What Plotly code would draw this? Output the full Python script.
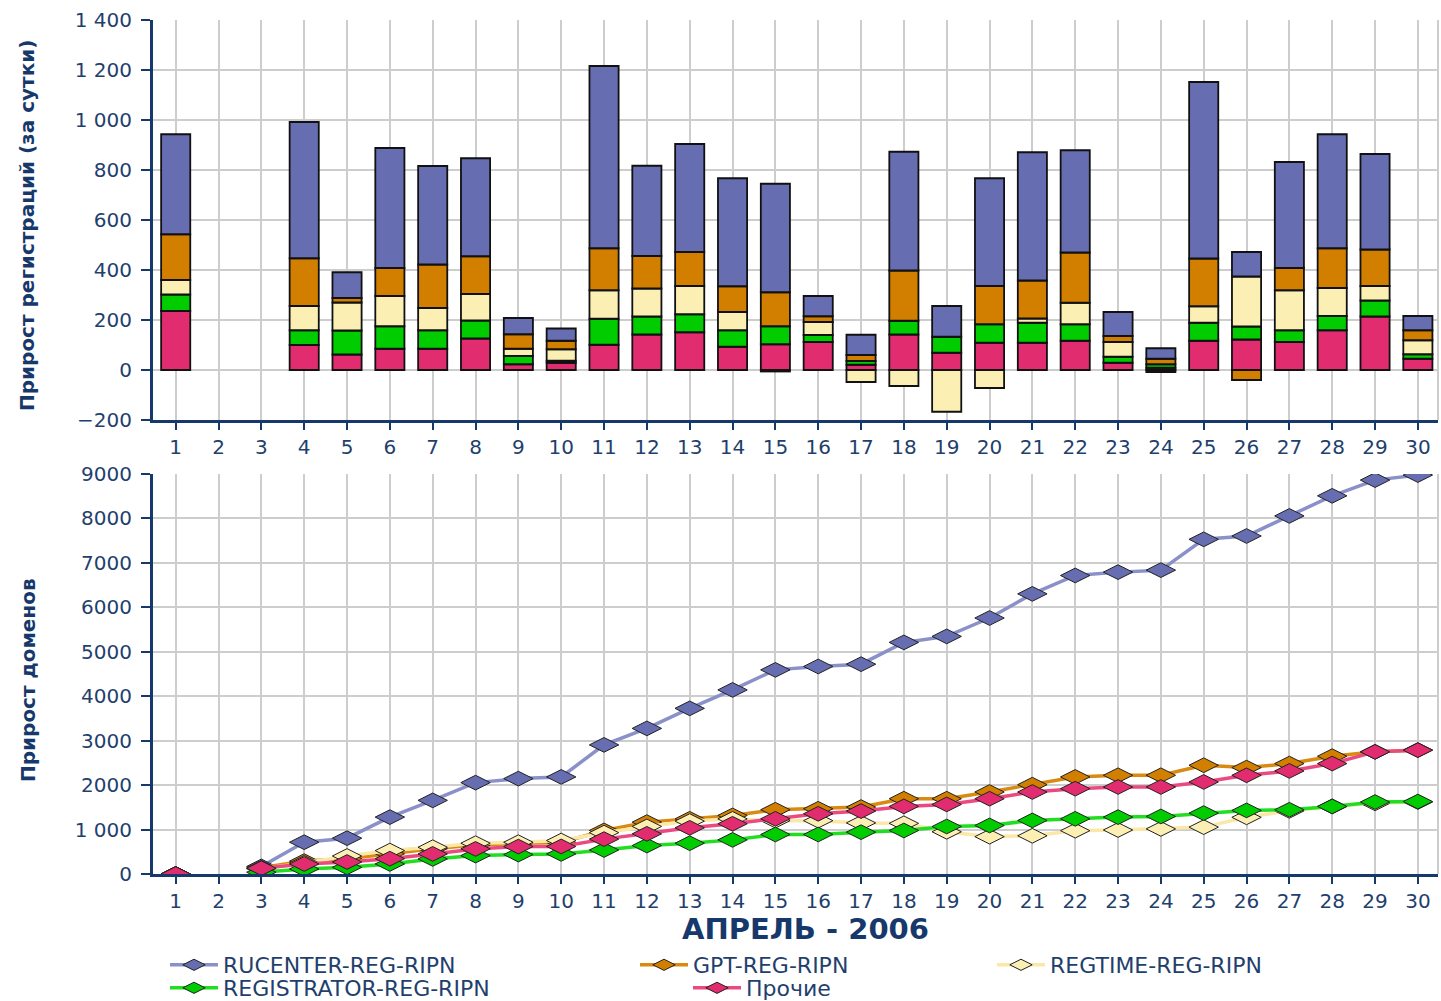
import plotly.graph_objects as go

days = list(range(1, 31))

# ---- Daily increments (top chart), stacked bottom→top ----
prochie_bar = [236, None, None, 100, 62, 85, 85, 126, 23, 29, 101, 142, 151, 93, 103,
               112, 21, 142, 69, 109, 109, 117, 29, 9, 117, 122, 112, 159, 214, 45]
registrator_bar = [66, None, None, 59, 96, 90, 74, 72, 33, 8, 104, 72, 72, 66, 72,
                   28, 15, 55, 64, 74, 80, 66, 24, 14, 72, 52, 47, 57, 64, 18]
regtime_bar = [58, None, None, 97, 112, 121, 89, 106, 29, 46, 114, 112, 113, 73, -6,
               52, -48, -64, -167, -72, 17, 86, 59, -8, 66, 200, 160, 112, 58, 56]
gpt_bar = [183, None, None, 191, 18, 112, 174, 151, 58, 34, 168, 130, 136, 103, 136,
           23, 24, 201, 0, 153, 152, 201, 24, 22, 191, -40, 89, 159, 146, 40]
rucenter_bar = [400, None, None, 545, 103, 480, 394, 392, 65, 49, 729, 361, 432, 432, 434,
                81, 81, 475, 123, 431, 513, 409, 96, 42, 706, 98, 424, 456, 382, 57]

# ---- Cumulative growth (bottom chart) ----
rucenter_cum = [0, None, 170, 715, 806, 1280, 1657, 2056, 2146, 2184, 2905, 3276, 3727, 4142, 4593,
                4669, 4721, 5211, 5346, 5760, 6303, 6717, 6792, 6837, 7530, 7605, 8057, 8509, 8863, 8976]
gpt_cum = [0, None, 140, 290, 345, 455, 570, 650, 690, 710, 980, 1167, 1242, 1318, 1446,
           1468, 1506, 1694, 1694, 1845, 2010, 2184, 2221, 2221, 2447, 2394, 2485, 2651, 2748, 2790]
regtime_cum = [0, None, 120, 250, 405, 527, 602, 693, 715, 753, 930, 1070, 1190, 1240, 1200,
               1200, 1150, 1140, 950, 840, 860, 975, 990, 1015, 1055, 1275, 1420, 1520, 1590, 1620]
registrator_cum = [0, None, 40, 113, 150, 226, 339, 414, 437, 452, 540, 640, 693, 768, 889,
                   889, 941, 979, 1069, 1092, 1205, 1242, 1280, 1295, 1370, 1431, 1446, 1521, 1619, 1630]
prochie_cum = [0, None, 130, 226, 270, 345, 452, 565, 617, 620, 785, 904, 1039, 1130, 1242,
               1355, 1416, 1521, 1566, 1694, 1845, 1920, 1958, 1958, 2071, 2221, 2319, 2485, 2748, 2786]

names = ["RUCENTER-REG-RIPN", "GPT-REG-RIPN", "REGTIME-REG-RIPN", "REGISTRATOR-REG-RIPN", "Прочие"]

top_ticks = [-200, 0, 200, 400, 600, 800, 1000, 1200, 1400]
top_ticktext = ["\u2212200", "0", "200", "400", "600", "800", "1 000", "1 200", "1 400"]
bot_ticks = [0, 1000, 2000, 3000, 4000, 5000, 6000, 7000, 8000, 9000]
bot_ticktext = ["0", "1 000", "2000", "3000", "4000", "5000", "6000", "7000", "8000", "9000"]

NAVY = "#16386a"
TXT = "#1f3f6d"
GRID = "#cdcdcd"

bar_colors = {
    "Прочие": "#e22c70",
    "REGISTRATOR-REG-RIPN": "#00cc00",
    "REGTIME-REG-RIPN": "#fbefb4",
    "GPT-REG-RIPN": "#d27f00",
    "RUCENTER-REG-RIPN": "#666db0",
}
line_colors = {
    "RUCENTER-REG-RIPN": "#8a90c8",
    "GPT-REG-RIPN": "#d98a10",
    "REGTIME-REG-RIPN": "#fbe8a8",
    "REGISTRATOR-REG-RIPN": "#22dd22",
    "Прочие": "#ea4a80",
}

fig = go.Figure()

bar_series = [("Прочие", prochie_bar), ("REGISTRATOR-REG-RIPN", registrator_bar),
              ("REGTIME-REG-RIPN", regtime_bar), ("GPT-REG-RIPN", gpt_bar),
              ("RUCENTER-REG-RIPN", rucenter_bar)]
for nm, vals in bar_series:
    fig.add_trace(go.Bar(x=days, y=vals, name=nm, showlegend=False, width=0.68,
                         marker=dict(color=bar_colors[nm], line=dict(color="#111111", width=1.8)),
                         xaxis="x", yaxis="y"))

line_series = [("RUCENTER-REG-RIPN", rucenter_cum), ("GPT-REG-RIPN", gpt_cum),
               ("REGTIME-REG-RIPN", regtime_cum), ("REGISTRATOR-REG-RIPN", registrator_cum),
               ("Прочие", prochie_cum)]
legend_ids = ["legend", "legend2", "legend3", "legend4", "legend5"]
for (nm, vals), lg in zip(line_series, legend_ids):
    fig.add_trace(go.Scatter(x=days, y=vals, name=nm, mode="lines+markers", connectgaps=False,
                             line=dict(color=line_colors[nm], width=3.5),
                             marker=dict(symbol="diamond-wide", size=21, color=bar_colors[nm],
                                         line=dict(color="#222222", width=1)),
                             xaxis="x2", yaxis="y2", legend=lg))

tickfont = dict(family="DejaVu Sans", size=20, color=TXT)
common_x = dict(range=[0.47, 30.47], tickmode="array", tickvals=days, ticktext=[str(d) for d in days],
                showgrid=True, gridcolor=GRID, gridwidth=2, showline=True, linecolor=NAVY, linewidth=3,
                ticks="outside", ticklen=7, tickwidth=2, tickcolor=NAVY, tickfont=tickfont,
                zeroline=False, fixedrange=True)
common_y = dict(showgrid=True, gridcolor=GRID, gridwidth=2, showline=True, linecolor=NAVY, linewidth=3,
                ticks="outside", ticklen=9, tickwidth=2, tickcolor=NAVY, tickfont=tickfont,
                zeroline=False, ticklabelstandoff=5)

H = 1001
top_px, bot_px = 20, 874
plot_h = bot_px - top_px


def fy(py):
    return (bot_px - py) / plot_h


fig.update_layout(
    width=1441, height=H,
    margin=dict(l=153, r=3, t=top_px, b=H - bot_px, autoexpand=False),
    paper_bgcolor="white", plot_bgcolor="white",
    barmode="relative", bargap=0.3,
    xaxis=dict(common_x, domain=[0, 1], anchor="y"),
    yaxis=dict(common_y, domain=[fy(420), 1.0], range=[-200, 1400], tickvals=top_ticks,
               ticktext=top_ticktext, anchor="x"),
    xaxis2=dict(common_x, domain=[0, 1], anchor="y2"),
    yaxis2=dict(common_y, domain=[0, fy(474)], range=[0, 9000], tickvals=bot_ticks,
                ticktext=bot_ticktext, anchor="x2"),
    font=dict(family="DejaVu Sans", color=TXT),
)

# Legends placed individually
leg_font = dict(family="DejaVu Sans", size=22, color=TXT)
leg_pos = [(165, 965), (635, 965), (992, 965), (165, 988), (688, 988)]
for lg, (px, py) in zip(legend_ids, leg_pos):
    fig.update_layout({lg: dict(x=(px - 153) / 1285, y=fy(py), xanchor="left", yanchor="middle",
                                orientation="h", font=leg_font, bgcolor="rgba(0,0,0,0)",
                                borderwidth=0, itemwidth=48, tracegroupgap=0)})

# Right borders of plot areas
for xr, yr in [("x domain", "y domain"), ("x2 domain", "y2 domain")]:
    fig.add_shape(type="line", xref=xr, yref=yr, x0=1, x1=1, y0=0, y1=1,
                  line=dict(color=GRID, width=2), layer="below")

# Titles
title_font = dict(family="Liberation Sans Narrow, DejaVu Sans", size=20, color=NAVY)
fig.add_annotation(text="<b>Прирост регистраций (за сутки)</b>", xref="paper", yref="paper",
                   x=(27 - 153) / 1285, y=fy(226), textangle=-90, showarrow=False,
                   font=title_font, xanchor="center", yanchor="middle")
fig.add_annotation(text="<b>Прирост доменов</b>", xref="paper", yref="paper",
                   x=(28 - 153) / 1285, y=fy(680), textangle=-90, showarrow=False,
                   font=title_font, xanchor="center", yanchor="middle")
fig.add_annotation(text="<b>АПРЕЛЬ - 2006</b>", xref="paper", yref="paper",
                   x=(805 - 153) / 1285, y=fy(929), showarrow=False,
                   font=dict(family="DejaVu Sans", size=29, color=NAVY),
                   xanchor="center", yanchor="middle")

fig.write_html("out.html", config={"displayModeBar": False},
               post_script="document.body.style.margin='0px';document.body.style.overflow='hidden';")
